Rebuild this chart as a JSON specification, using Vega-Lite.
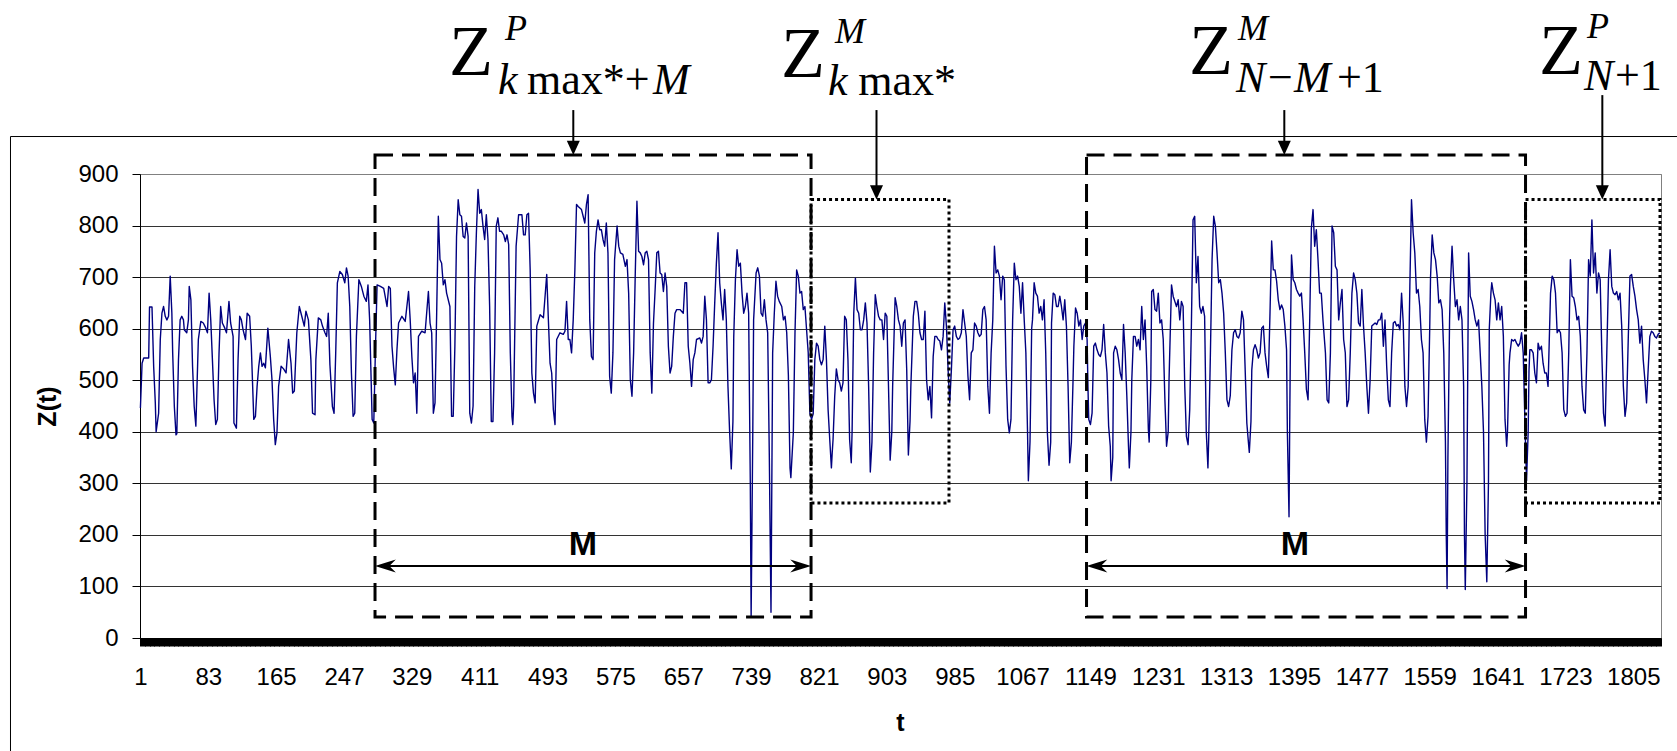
{
"$schema": "https://vega.github.io/schema/vega-lite/v6.json",
"width": 1521, "height": 464,
"autosize": {"type": "none"},
"padding": {"left": 140, "top": 174, "right": 16, "bottom": 113},
"background": "white",
"config": {"view": {"stroke": "#808080", "strokeWidth": 1}, "font": "Liberation Sans"},
"datasets": {
"series": [
{"t":1,"z":446},{"t":3,"z":533},{"t":5,"z":543},{"t":11,"z":543},{"t":12,"z":642},{"t":15,"z":642},{"t":17,"z":527},{"t":19,"z":456},{"t":20,"z":400},{"t":23,"z":436},{"t":25,"z":579},{"t":27,"z":630},{"t":29,"z":643},{"t":31,"z":624},{"t":33,"z":617},{"t":35,"z":624},{"t":37,"z":702},{"t":39,"z":630},{"t":40,"z":553},{"t":42,"z":449},{"t":44,"z":394},{"t":45,"z":396},{"t":47,"z":540},{"t":49,"z":617},{"t":51,"z":624},{"t":53,"z":617},{"t":54,"z":598},{"t":57,"z":592},{"t":59,"z":617},{"t":60,"z":682},{"t":62,"z":656},{"t":64,"z":527},{"t":66,"z":449},{"t":68,"z":411},{"t":71,"z":579},{"t":74,"z":614},{"t":77,"z":611},{"t":80,"z":601},{"t":82,"z":592},{"t":84,"z":669},{"t":86,"z":617},{"t":88,"z":540},{"t":90,"z":462},{"t":92,"z":414},{"t":94,"z":424},{"t":96,"z":553},{"t":98,"z":643},{"t":100,"z":611},{"t":103,"z":601},{"t":105,"z":592},{"t":108,"z":653},{"t":110,"z":611},{"t":113,"z":585},{"t":114,"z":417},{"t":117,"z":407},{"t":119,"z":540},{"t":121,"z":624},{"t":123,"z":617},{"t":125,"z":598},{"t":128,"z":579},{"t":130,"z":630},{"t":133,"z":624},{"t":135,"z":566},{"t":138,"z":424},{"t":140,"z":430},{"t":142,"z":488},{"t":144,"z":527},{"t":146,"z":553},{"t":148,"z":527},{"t":150,"z":533},{"t":152,"z":524},{"t":155,"z":601},{"t":158,"z":546},{"t":160,"z":501},{"t":162,"z":424},{"t":164,"z":375},{"t":166,"z":398},{"t":168,"z":488},{"t":171,"z":527},{"t":174,"z":522},{"t":177,"z":514},{"t":180,"z":579},{"t":183,"z":533},{"t":185,"z":475},{"t":187,"z":479},{"t":190,"z":592},{"t":193,"z":643},{"t":196,"z":624},{"t":199,"z":605},{"t":201,"z":634},{"t":204,"z":617},{"t":207,"z":540},{"t":209,"z":436},{"t":212,"z":433},{"t":213,"z":540},{"t":216,"z":621},{"t":219,"z":617},{"t":221,"z":605},{"t":224,"z":592},{"t":226,"z":585},{"t":228,"z":630},{"t":230,"z":530},{"t":233,"z":449},{"t":235,"z":436},{"t":237,"z":553},{"t":239,"z":689},{"t":242,"z":711},{"t":245,"z":705},{"t":248,"z":689},{"t":250,"z":718},{"t":252,"z":702},{"t":254,"z":643},{"t":256,"z":514},{"t":258,"z":430},{"t":260,"z":436},{"t":262,"z":585},{"t":265,"z":695},{"t":268,"z":682},{"t":271,"z":663},{"t":274,"z":653},{"t":276,"z":685},{"t":278,"z":617},{"t":281,"z":424},{"t":283,"z":417},{"t":285,"z":560},{"t":287,"z":685},
{"t":291,"z":682},{"t":295,"z":678},{"t":299,"z":643},{"t":301,"z":682},{"t":303,"z":678},{"t":305,"z":566},{"t":307,"z":524},{"t":309,"z":491},{"t":311,"z":559},{"t":313,"z":611},{"t":317,"z":624},{"t":321,"z":614},{"t":325,"z":672},{"t":327,"z":617},{"t":329,"z":546},{"t":331,"z":495},{"t":333,"z":514},{"t":335,"z":436},{"t":337,"z":585},{"t":341,"z":595},{"t":345,"z":592},{"t":349,"z":672},{"t":351,"z":611},{"t":353,"z":592},{"t":355,"z":436},{"t":357,"z":456},{"t":359,"z":630},{"t":361,"z":818},{"t":363,"z":734},{"t":365,"z":727},{"t":367,"z":685},{"t":369,"z":695},{"t":371,"z":669},{"t":375,"z":643},{"t":377,"z":430},{"t":379,"z":430},{"t":381,"z":566},{"t":383,"z":779},{"t":385,"z":850},{"t":387,"z":821},{"t":389,"z":818},{"t":391,"z":779},{"t":393,"z":776},{"t":395,"z":805},{"t":397,"z":779},{"t":399,"z":436},{"t":401,"z":417},{"t":403,"z":450},{"t":405,"z":682},{"t":407,"z":786},{"t":409,"z":870},{"t":411,"z":824},{"t":413,"z":831},{"t":415,"z":799},{"t":417,"z":773},{"t":419,"z":821},{"t":421,"z":773},{"t":423,"z":643},{"t":425,"z":420},{"t":427,"z":420},{"t":429,"z":553},{"t":431,"z":799},{"t":433,"z":815},{"t":435,"z":789},{"t":437,"z":789},{"t":440,"z":782},{"t":442,"z":769},{"t":444,"z":782},{"t":446,"z":763},{"t":448,"z":553},{"t":450,"z":430},{"t":451,"z":414},{"t":452,"z":450},{"t":455,"z":760},{"t":458,"z":821},{"t":462,"z":821},{"t":464,"z":782},{"t":466,"z":782},{"t":468,"z":821},{"t":470,"z":824},{"t":472,"z":714},{"t":474,"z":514},{"t":476,"z":475},{"t":478,"z":456},{"t":480,"z":605},{"t":484,"z":627},{"t":488,"z":621},{"t":492,"z":705},{"t":494,"z":617},{"t":496,"z":533},{"t":498,"z":514},{"t":500,"z":443},{"t":502,"z":414},{"t":504,"z":579},{"t":508,"z":592},{"t":512,"z":589},{"t":514,"z":595},{"t":516,"z":653},{"t":518,"z":579},{"t":520,"z":579},{"t":522,"z":553},{"t":524,"z":617},{"t":526,"z":714},{"t":528,"z":841},{"t":530,"z":837},{"t":532,"z":834},{"t":534,"z":831},{"t":536,"z":818},{"t":538,"z":805},{"t":540,"z":841},{"t":542,"z":860},{"t":544,"z":617},{"t":546,"z":546},{"t":548,"z":540},{"t":550,"z":747},{"t":552,"z":789},{"t":554,"z":811},{"t":556,"z":792},{"t":558,"z":792},{"t":560,"z":773},{"t":562,"z":760},{"t":564,"z":805},{"t":566,"z":747},{"t":568,"z":508},{"t":570,"z":475},{"t":572,"z":553},{"t":574,"z":734},{"t":577,"z":799},{"t":579,"z":760},{"t":581,"z":747},{"t":584,"z":744},{"t":587,"z":721},{"t":589,"z":734},{"t":591,"z":669},{"t":593,"z":501},{"t":595,"z":469},{"t":597,"z":553},{"t":599,"z":708},{"t":601,"z":847},{"t":603,"z":750},{"t":605,"z":747},{"t":607,"z":740},{"t":609,"z":724},{"t":611,"z":747},{"t":613,"z":750},{"t":615,"z":734},{"t":617,"z":553},{"t":619,"z":475},{"t":621,"z":611},{"t":623,"z":676},{"t":625,"z":747},{"t":627,"z":750},{"t":629,"z":708},{"t":631,"z":705},{"t":633,"z":672},{"t":635,"z":708},{"t":637,"z":682},{"t":639,"z":566},{"t":641,"z":514},{"t":643,"z":527},{"t":645,"z":585},{"t":647,"z":630},{"t":649,"z":637},{"t":653,"z":637},{"t":657,"z":630},{"t":659,"z":689},{"t":661,"z":689},{"t":663,"z":566},{"t":665,"z":533},{"t":667,"z":488},{"t":669,"z":540},{"t":671,"z":553},{"t":673,"z":579},{"t":677,"z":582},{"t":679,"z":572},{"t":681,"z":585},{"t":683,"z":663},{"t":685,"z":617},{"t":687,"z":495},{"t":689,"z":495},{"t":691,"z":501},{"t":693,"z":566},{"t":695,"z":650},{"t":697,"z":727},{"t":699,"z":786},{"t":701,"z":689},{"t":703,"z":650},{"t":705,"z":617},{"t":707,"z":676},{"t":709,"z":617},{"t":711,"z":488},{"t":713,"z":400},{"t":715,"z":328},{"t":717,"z":420},{"t":718,"z":585},{"t":720,"z":695},{"t":722,"z":753},{"t":724,"z":721},{"t":726,"z":727},{"t":728,"z":669},{"t":730,"z":630},{"t":732,"z":643},{"t":734,"z":669},{"t":736,"z":630},{"t":738,"z":300},{"t":739,"z":40},{"t":741,"z":400},{"t":742,"z":617},{"t":745,"z":708},{"t":747,"z":718},{"t":749,"z":702},{"t":751,"z":630},{"t":753,"z":624},{"t":755,"z":656},{"t":757,"z":617},{"t":759,"z":592},{"t":761,"z":350},{"t":763,"z":50},{"t":764,"z":300},{"t":765,"z":553},{"t":767,"z":630},{"t":769,"z":692},{"t":771,"z":663},{"t":773,"z":653},{"t":776,"z":643},{"t":778,"z":617},{"t":780,"z":624},{"t":782,"z":592},{"t":784,"z":510},{"t":786,"z":330},{"t":787,"z":311},{"t":790,"z":398},{"t":792,"z":592},{"t":794,"z":714},{"t":796,"z":702},{"t":798,"z":669},{"t":800,"z":672},{"t":802,"z":637},{"t":804,"z":643},{"t":806,"z":598},{"t":808,"z":553},{"t":810,"z":436},{"t":812,"z":424},
{"t":814,"z":435},{"t":816,"z":540},{"t":818,"z":572},{"t":820,"z":566},{"t":822,"z":540},{"t":824,"z":530},{"t":826,"z":540},{"t":828,"z":605},{"t":830,"z":540},{"t":832,"z":443},{"t":834,"z":385},{"t":836,"z":330},{"t":837,"z":360},{"t":838,"z":385},{"t":840,"z":469},{"t":842,"z":522},{"t":844,"z":501},{"t":846,"z":495},{"t":848,"z":479},{"t":850,"z":495},{"t":852,"z":624},{"t":854,"z":617},{"t":856,"z":540},{"t":858,"z":385},{"t":860,"z":340},{"t":861,"z":400},{"t":863,"z":630},{"t":865,"z":698},{"t":867,"z":637},{"t":869,"z":630},{"t":871,"z":598},{"t":873,"z":598},{"t":875,"z":617},{"t":877,"z":650},{"t":879,"z":611},{"t":881,"z":488},{"t":883,"z":322},{"t":885,"z":380},{"t":887,"z":553},{"t":889,"z":666},{"t":891,"z":643},{"t":893,"z":624},{"t":895,"z":617},{"t":897,"z":617},{"t":899,"z":579},{"t":901,"z":630},{"t":903,"z":624},{"t":905,"z":488},{"t":907,"z":345},{"t":909,"z":400},{"t":910,"z":488},{"t":913,"z":660},{"t":915,"z":643},{"t":917,"z":617},{"t":919,"z":605},{"t":921,"z":566},{"t":923,"z":611},{"t":925,"z":617},{"t":927,"z":521},{"t":929,"z":355},{"t":931,"z":420},{"t":932,"z":488},{"t":935,"z":624},{"t":937,"z":653},{"t":939,"z":653},{"t":941,"z":630},{"t":943,"z":592},{"t":945,"z":579},{"t":947,"z":579},{"t":949,"z":634},{"t":951,"z":501},{"t":953,"z":462},{"t":955,"z":488},{"t":957,"z":427},{"t":959,"z":546},{"t":961,"z":585},{"t":963,"z":585},{"t":965,"z":579},{"t":967,"z":576},{"t":969,"z":559},{"t":971,"z":585},{"t":973,"z":650},{"t":975,"z":605},{"t":977,"z":521},{"t":979,"z":456},{"t":981,"z":521},{"t":983,"z":598},{"t":985,"z":605},{"t":987,"z":585},{"t":989,"z":579},{"t":991,"z":582},{"t":993,"z":592},{"t":995,"z":637},{"t":997,"z":611},{"t":999,"z":585},{"t":1001,"z":508},{"t":1003,"z":462},{"t":1005,"z":553},{"t":1007,"z":559},{"t":1009,"z":611},{"t":1011,"z":605},{"t":1013,"z":592},{"t":1015,"z":585},{"t":1017,"z":589},{"t":1019,"z":637},{"t":1021,"z":643},{"t":1023,"z":617},{"t":1025,"z":488},{"t":1027,"z":436},{"t":1029,"z":553},{"t":1031,"z":617},{"t":1033,"z":760},{"t":1035,"z":708},{"t":1037,"z":714},{"t":1039,"z":702},{"t":1041,"z":656},{"t":1043,"z":702},{"t":1045,"z":695},{"t":1047,"z":527},{"t":1049,"z":424},{"t":1051,"z":398},{"t":1053,"z":424},{"t":1055,"z":617},{"t":1057,"z":727},{"t":1059,"z":695},{"t":1061,"z":702},{"t":1063,"z":682},{"t":1065,"z":630},{"t":1067,"z":689},{"t":1069,"z":617},{"t":1071,"z":553},{"t":1073,"z":400},{"t":1074,"z":305},{"t":1076,"z":380},{"t":1078,"z":600},{"t":1079,"z":617},{"t":1081,"z":689},{"t":1083,"z":669},{"t":1085,"z":663},{"t":1087,"z":630},{"t":1089,"z":643},{"t":1091,"z":617},{"t":1093,"z":656},{"t":1095,"z":553},{"t":1097,"z":398},{"t":1099,"z":335},{"t":1101,"z":380},{"t":1102,"z":611},{"t":1104,"z":669},{"t":1106,"z":666},{"t":1108,"z":643},{"t":1110,"z":643},{"t":1112,"z":663},{"t":1114,"z":643},{"t":1116,"z":617},{"t":1118,"z":656},{"t":1120,"z":605},{"t":1122,"z":488},{"t":1124,"z":340},{"t":1126,"z":380},{"t":1128,"z":500},{"t":1129,"z":566},{"t":1131,"z":640},{"t":1133,"z":630},{"t":1135,"z":605},{"t":1137,"z":617},{"t":1139,"z":579},{"t":1141,"z":605},{"t":1143,"z":611},{"t":1145,"z":579},{"t":1146,"z":488},{"t":1147,"z":424},{"t":1149,"z":414},{"t":1151,"z":436},{"t":1153,"z":566},{"t":1155,"z":572},{"t":1157,"z":559},{"t":1159,"z":550},{"t":1161,"z":546},{"t":1163,"z":559},{"t":1165,"z":608},{"t":1167,"z":553},{"t":1169,"z":514},{"t":1171,"z":411},{"t":1173,"z":372},{"t":1174,"z":305},{"t":1176,"z":350},{"t":1177,"z":553},{"t":1179,"z":566},{"t":1181,"z":559},{"t":1183,"z":540},{"t":1185,"z":514},{"t":1187,"z":501},{"t":1189,"z":608},{"t":1191,"z":553},{"t":1193,"z":469},{"t":1195,"z":372},{"t":1196,"z":330},{"t":1198,"z":400},{"t":1199,"z":501},{"t":1201,"z":585},{"t":1203,"z":585},{"t":1205,"z":566},{"t":1207,"z":579},{"t":1209,"z":559},{"t":1211,"z":643},{"t":1213,"z":579},{"t":1215,"z":617},{"t":1217,"z":527},{"t":1219,"z":405},{"t":1220,"z":380},{"t":1222,"z":500},{"t":1223,"z":672},{"t":1225,"z":676},{"t":1227,"z":637},{"t":1229,"z":634},{"t":1231,"z":669},{"t":1233,"z":611},{"t":1235,"z":617},{"t":1237,"z":579},{"t":1239,"z":462},{"t":1241,"z":372},{"t":1243,"z":400},{"t":1244,"z":501},{"t":1247,"z":685},{"t":1249,"z":663},{"t":1251,"z":653},{"t":1253,"z":643},{"t":1255,"z":656},{"t":1257,"z":617},{"t":1259,"z":653},{"t":1261,"z":643},{"t":1263,"z":488},{"t":1265,"z":391},{"t":1267,"z":375},{"t":1269,"z":443},{"t":1271,"z":605},{"t":1273,"z":811},{"t":1275,"z":818},{"t":1277,"z":689},{"t":1279,"z":740},{"t":1281,"z":643},{"t":1283,"z":630},{"t":1285,"z":643},{"t":1287,"z":624},{"t":1289,"z":400},{"t":1291,"z":330},{"t":1292,"z":390},{"t":1294,"z":553},{"t":1296,"z":734},{"t":1298,"z":818},{"t":1300,"z":799},{"t":1302,"z":747},{"t":1304,"z":689},{"t":1306,"z":695},{"t":1308,"z":669},{"t":1310,"z":630},{"t":1312,"z":553},{"t":1314,"z":462},{"t":1316,"z":449},
{"t":1318,"z":470},{"t":1320,"z":559},{"t":1322,"z":592},{"t":1324,"z":598},{"t":1326,"z":585},{"t":1328,"z":582},{"t":1330,"z":592},{"t":1332,"z":634},{"t":1334,"z":617},{"t":1336,"z":521},{"t":1338,"z":417},{"t":1340,"z":378},{"t":1341,"z":360},{"t":1343,"z":420},{"t":1344,"z":520},{"t":1346,"z":559},{"t":1348,"z":569},{"t":1350,"z":559},{"t":1352,"z":543},{"t":1354,"z":553},{"t":1356,"z":601},{"t":1358,"z":605},{"t":1360,"z":553},{"t":1362,"z":527},{"t":1364,"z":505},{"t":1366,"z":630},{"t":1368,"z":770},{"t":1370,"z":714},{"t":1372,"z":714},{"t":1374,"z":692},{"t":1376,"z":656},{"t":1378,"z":637},{"t":1380,"z":646},{"t":1382,"z":637},{"t":1384,"z":605},{"t":1386,"z":559},{"t":1387,"z":400},{"t":1389,"z":235},{"t":1390,"z":450},{"t":1391,"z":620},{"t":1392,"z":743},{"t":1394,"z":695},{"t":1396,"z":689},{"t":1398,"z":676},{"t":1400,"z":669},{"t":1402,"z":663},{"t":1404,"z":669},{"t":1406,"z":617},{"t":1408,"z":553},{"t":1410,"z":482},{"t":1412,"z":462},{"t":1414,"z":617},{"t":1416,"z":795},{"t":1418,"z":831},{"t":1420,"z":760},{"t":1422,"z":792},{"t":1424,"z":734},{"t":1426,"z":669},{"t":1428,"z":669},{"t":1430,"z":617},{"t":1433,"z":553},{"t":1435,"z":462},{"t":1437,"z":456},{"t":1439,"z":553},{"t":1441,"z":799},{"t":1443,"z":786},{"t":1445,"z":721},{"t":1447,"z":714},{"t":1449,"z":617},{"t":1451,"z":650},{"t":1453,"z":676},{"t":1455,"z":579},{"t":1457,"z":553},{"t":1459,"z":449},{"t":1461,"z":462},{"t":1463,"z":553},{"t":1465,"z":669},{"t":1467,"z":708},{"t":1469,"z":695},{"t":1471,"z":669},{"t":1473,"z":611},{"t":1475,"z":605},{"t":1477,"z":676},{"t":1479,"z":605},{"t":1481,"z":553},{"t":1483,"z":488},{"t":1485,"z":436},{"t":1487,"z":501},{"t":1489,"z":605},{"t":1491,"z":608},{"t":1493,"z":611},{"t":1495,"z":608},{"t":1497,"z":617},{"t":1499,"z":617},{"t":1501,"z":630},{"t":1503,"z":566},{"t":1505,"z":617},{"t":1507,"z":527},{"t":1509,"z":462},{"t":1511,"z":449},{"t":1513,"z":553},{"t":1515,"z":611},{"t":1517,"z":614},{"t":1519,"z":605},{"t":1521,"z":608},{"t":1523,"z":598},{"t":1525,"z":669},{"t":1527,"z":611},{"t":1529,"z":488},{"t":1531,"z":449},{"t":1533,"z":488},{"t":1535,"z":682},{"t":1537,"z":850},{"t":1539,"z":786},{"t":1541,"z":747},{"t":1543,"z":669},{"t":1545,"z":676},{"t":1547,"z":643},{"t":1549,"z":579},{"t":1551,"z":553},{"t":1553,"z":424},{"t":1555,"z":380},{"t":1557,"z":430},{"t":1559,"z":600},{"t":1560,"z":700},{"t":1562,"z":782},{"t":1564,"z":747},{"t":1566,"z":734},{"t":1568,"z":702},{"t":1570,"z":650},{"t":1572,"z":656},{"t":1574,"z":637},{"t":1576,"z":553},{"t":1578,"z":380},{"t":1579,"z":200},{"t":1580,"z":96},{"t":1581,"z":350},{"t":1583,"z":617},{"t":1584,"z":682},{"t":1586,"z":760},{"t":1588,"z":695},{"t":1590,"z":643},{"t":1592,"z":656},{"t":1594,"z":617},{"t":1596,"z":643},{"t":1598,"z":617},{"t":1600,"z":488},{"t":1601,"z":200},{"t":1602,"z":94},{"t":1604,"z":300},{"t":1606,"z":747},{"t":1608,"z":663},{"t":1610,"z":653},{"t":1612,"z":637},{"t":1614,"z":617},{"t":1616,"z":605},{"t":1618,"z":617},{"t":1620,"z":553},{"t":1622,"z":488},{"t":1624,"z":400},{"t":1626,"z":200},{"t":1628,"z":109},{"t":1630,"z":300},{"t":1631,"z":600},{"t":1633,"z":670},{"t":1634,"z":689},{"t":1636,"z":669},{"t":1638,"z":656},{"t":1640,"z":617},{"t":1642,"z":650},{"t":1644,"z":617},{"t":1646,"z":643},{"t":1648,"z":585},{"t":1650,"z":424},{"t":1652,"z":372},{"t":1653,"z":400},{"t":1655,"z":530},{"t":1656,"z":553},{"t":1658,"z":579},{"t":1660,"z":576},{"t":1662,"z":579},{"t":1664,"z":572},{"t":1666,"z":566},{"t":1668,"z":572},{"t":1670,"z":592},{"t":1672,"z":553},{"t":1674,"z":424},{"t":1676,"z":305},{"t":1678,"z":400},{"t":1679,"z":520},{"t":1680,"z":559},{"t":1682,"z":559},{"t":1684,"z":553},{"t":1686,"z":514},{"t":1688,"z":495},{"t":1690,"z":572},{"t":1692,"z":559},{"t":1694,"z":566},{"t":1696,"z":533},{"t":1698,"z":514},{"t":1700,"z":514},{"t":1702,"z":488},{"t":1705,"z":669},{"t":1707,"z":702},{"t":1709,"z":695},{"t":1711,"z":669},{"t":1713,"z":592},{"t":1715,"z":598},{"t":1717,"z":592},{"t":1719,"z":553},{"t":1721,"z":443},{"t":1723,"z":430},{"t":1725,"z":436},{"t":1727,"z":553},{"t":1729,"z":734},{"t":1731,"z":663},{"t":1733,"z":660},{"t":1735,"z":643},{"t":1737,"z":617},{"t":1739,"z":624},{"t":1741,"z":585},{"t":1743,"z":488},{"t":1745,"z":443},{"t":1747,"z":436},{"t":1749,"z":553},{"t":1751,"z":734},{"t":1753,"z":702},{"t":1755,"z":811},{"t":1757,"z":708},{"t":1759,"z":747},{"t":1761,"z":669},{"t":1763,"z":708},{"t":1765,"z":695},{"t":1767,"z":553},{"t":1769,"z":436},{"t":1771,"z":411},{"t":1773,"z":553},{"t":1775,"z":695},{"t":1777,"z":753},{"t":1779,"z":682},{"t":1781,"z":669},{"t":1783,"z":666},{"t":1785,"z":672},{"t":1787,"z":656},{"t":1789,"z":669},{"t":1791,"z":605},{"t":1793,"z":488},{"t":1795,"z":430},{"t":1797,"z":456},{"t":1799,"z":585},{"t":1801,"z":702},{"t":1803,"z":705},{"t":1805,"z":682},{"t":1807,"z":663},{"t":1809,"z":637},{"t":1811,"z":617},{"t":1813,"z":572},{"t":1815,"z":605},{"t":1817,"z":540},{"t":1819,"z":501},{"t":1821,"z":456},{"t":1823,"z":521},{"t":1825,"z":585},{"t":1827,"z":595},{"t":1829,"z":592},{"t":1831,"z":585},{"t":1833,"z":582},{"t":1835,"z":589},{"t":1837,"z":592}
],
"boxes": [
{"t":284.5,"t2":811.4,"z":40.7,"z2":936.8,"kind":"dash"},
{"t":1144.3,"t2":1674.8,"z":40.7,"z2":936.8,"kind":"dash"},
{"t":811.4,"t2":978.1,"z":261.8,"z2":850.5,"kind":"dot"},
{"t":1674.8,"t2":1837.3,"z":261.8,"z2":850.5,"kind":"dot"}
],
"rules": [
{"t":-156,"t2":2600,"z":972.7,"z2":972.7,"grp":"frame"},
{"t":-156,"t2":-156,"z":972.7,"z2":-400,"grp":"frame"},
{"t":524.1,"t2":524.1,"z":1024,"z2":945,"grp":"arrow"},
{"t":890.5,"t2":890.5,"z":1024,"z2":860,"grp":"arrow"},
{"t":1383.3,"t2":1383.3,"z":1024,"z2":945,"grp":"arrow"},
{"t":1767.6,"t2":1767.6,"z":1053,"z2":860,"grp":"arrow"},
{"t":295,"t2":801,"z":139.6,"z2":139.6,"grp":"arrow"},
{"t":1155,"t2":1664,"z":139.6,"z2":139.6,"grp":"arrow"}
],
"heads": [
{"t":524.1,"z":936.8,"dir":"down"},
{"t":890.5,"z":850.5,"dir":"down"},
{"t":1383.3,"z":936.8,"dir":"down"},
{"t":1767.6,"z":850.5,"dir":"down"},
{"t":284.5,"z":139.6,"dir":"left"},
{"t":811.4,"z":139.6,"dir":"right"},
{"t":1144.3,"z":139.6,"dir":"left"},
{"t":1674.8,"z":139.6,"dir":"right"}
],
"labels": [
{"t":373.9,"z":1092,"txt":"Z","role":"Z"},
{"t":441.6,"z":1160,"txt":"P","role":"sup"},
{"t":433.1,"z":1055,"txt":"k","role":"subi"},
{"t":468.2,"z":1055,"txt":"max*+","role":"subr"},
{"t":620.4,"z":1055,"txt":"M","role":"subi"},
{"t":775.1,"z":1088,"txt":"Z","role":"Z"},
{"t":840.3,"z":1155,"txt":"M","role":"sup"},
{"t":831.9,"z":1053,"txt":"k","role":"subi"},
{"t":868.5,"z":1053,"txt":"max*","role":"subr"},
{"t":1268.1,"z":1094,"txt":"Z","role":"Z"},
{"t":1327.3,"z":1160,"txt":"M","role":"sup"},
{"t":1324.9,"z":1060,"txt":"N","role":"subi"},
{"t":1363.6,"z":1060,"txt":"−","role":"subr"},
{"t":1395.0,"z":1060,"txt":"M","role":"subi"},
{"t":1447.0,"z":1060,"txt":"+1","role":"subr"},
{"t":1691.1,"z":1094,"txt":"Z","role":"Z"},
{"t":1749.1,"z":1163,"txt":"P","role":"sup"},
{"t":1745.5,"z":1062,"txt":"N","role":"subi"},
{"t":1782.9,"z":1062,"txt":"+1","role":"subr"},
{"t":535.8,"z":161,"txt":"M","role":"M"},
{"t":1396.2,"z":161,"txt":"M","role":"M"}
]
},
"layer": [
{"data": {"name": "series"},
 "mark": {"type": "line", "color": "#000080", "strokeWidth": 1.4, "strokeJoin": "round", "clip": false},
 "encoding": {
  "x": {"field": "t", "type": "quantitative", "title": "t", "scale": {"domain": [0.5, 1838.5], "nice": false, "zero": false},
   "axis": {"title": "t", "titleFont": "Liberation Sans", "titleFontSize": 25, "titleFontWeight": "bold", "titleColor": "black", "titleX": 760, "titleY": 92, "titleBaseline": "alphabetic", "titleAlign": "center",
    "tickCount": 1838, "format": "d", "labelExpr": "(datum.value - 1) % 82 === 0 ? datum.label : ''", "labelOverlap": false, "labelFlush": false, "labelFont": "Liberation Sans", "labelFontSize": 24, "labelColor": "black", "labelPadding": 19, "tickSize": 8, "tickColor": "black", "tickWidth": 1, "domainColor": "black", "domainWidth": 1, "grid": false}},
  "y": {"field": "z", "type": "quantitative", "title": "Z(t)", "scale": {"domain": [0, 900], "nice": false, "zero": true},
   "axis": {"title": "Z(t)", "values": [0,100,200,300,400,500,600,700,800,900], "grid": true, "gridColor": {"condition": {"test": "datum.value === 900", "value": "#808080"}, "value": "#333333"}, "gridWidth": 1,
    "labelFont": "Liberation Sans", "labelFontSize": 24, "labelColor": "black", "labelPadding": 14, "tickSize": 8, "tickColor": "black", "domainColor": "black",
    "titleFont": "Liberation Sans", "titleFontSize": 25, "titleFontWeight": "bold", "titleColor": "black", "titleX": -85, "titleY": 232, "titleAngle": 270, "titleBaseline": "alphabetic", "titleAlign": "center"}}
 }},
{"data": {"name": "boxes"}, "transform": [{"filter": "datum.kind === 'dash'"}],
 "mark": {"type": "rect", "filled": false, "stroke": "black", "strokeWidth": 3, "strokeDash": [18, 9], "clip": false},
 "encoding": {"x": {"field": "t", "type": "quantitative", "title": "t"}, "x2": {"field": "t2"}, "y": {"field": "z", "type": "quantitative", "title": "Z(t)"}, "y2": {"field": "z2"}}},
{"data": {"name": "boxes"}, "transform": [{"filter": "datum.kind === 'dot'"}],
 "mark": {"type": "rect", "filled": false, "stroke": "black", "strokeWidth": 3, "strokeDash": [3, 3], "clip": false},
 "encoding": {"x": {"field": "t", "type": "quantitative", "title": "t"}, "x2": {"field": "t2"}, "y": {"field": "z", "type": "quantitative", "title": "Z(t)"}, "y2": {"field": "z2"}}},
{"data": {"name": "rules"}, "transform": [{"filter": "datum.grp === 'frame'"}],
 "mark": {"type": "rule", "color": "black", "strokeWidth": 1, "clip": false},
 "encoding": {"x": {"field": "t", "type": "quantitative", "title": "t"}, "x2": {"field": "t2"}, "y": {"field": "z", "type": "quantitative", "title": "Z(t)"}, "y2": {"field": "z2"}}},
{"data": {"name": "rules"}, "transform": [{"filter": "datum.grp === 'arrow'"}],
 "mark": {"type": "rule", "color": "black", "strokeWidth": 2, "clip": false},
 "encoding": {"x": {"field": "t", "type": "quantitative", "title": "t"}, "x2": {"field": "t2"}, "y": {"field": "z", "type": "quantitative", "title": "Z(t)"}, "y2": {"field": "z2"}}},
{"data": {"name": "heads"},
 "mark": {"type": "point", "filled": true, "color": "black", "opacity": 1, "strokeWidth": 0, "size": 676, "clip": false},
 "encoding": {"x": {"field": "t", "type": "quantitative", "title": "t"}, "y": {"field": "z", "type": "quantitative", "title": "Z(t)"},
  "shape": {"field": "dir", "type": "nominal", "legend": null, "scale": {"domain": ["down", "left", "right"], "range": ["M0,0L-0.5,-1.1L0.5,-1.1Z", "M0,0L1.6,-0.5L1.1,0L1.6,0.5Z", "M0,0L-1.6,-0.5L-1.1,0L-1.6,0.5Z"]}}}},
{"data": {"name": "labels"}, "transform": [{"filter": "datum.role === 'M'"}],
 "mark": {"type": "text", "font": "Liberation Sans", "fontWeight": "bold", "fontSize": 34, "align": "center", "baseline": "alphabetic", "color": "black", "clip": false},
 "encoding": {"x": {"field": "t", "type": "quantitative", "title": "t"}, "y": {"field": "z", "type": "quantitative", "title": "Z(t)"}, "text": {"field": "txt"}}},
{"data": {"name": "labels"}, "transform": [{"filter": "datum.role === 'Z'"}],
 "mark": {"type": "text", "font": "Liberation Serif", "fontSize": 72, "align": "left", "baseline": "alphabetic", "color": "black", "clip": false},
 "encoding": {"x": {"field": "t", "type": "quantitative", "title": "t"}, "y": {"field": "z", "type": "quantitative", "title": "Z(t)"}, "text": {"field": "txt"}}},
{"data": {"name": "labels"}, "transform": [{"filter": "datum.role === 'sup'"}],
 "mark": {"type": "text", "font": "Liberation Serif", "fontStyle": "italic", "fontSize": 36, "align": "left", "baseline": "alphabetic", "color": "black", "clip": false},
 "encoding": {"x": {"field": "t", "type": "quantitative", "title": "t"}, "y": {"field": "z", "type": "quantitative", "title": "Z(t)"}, "text": {"field": "txt"}}},
{"data": {"name": "labels"}, "transform": [{"filter": "datum.role === 'subi'"}],
 "mark": {"type": "text", "font": "Liberation Serif", "fontStyle": "italic", "fontSize": 44, "align": "left", "baseline": "alphabetic", "color": "black", "clip": false},
 "encoding": {"x": {"field": "t", "type": "quantitative", "title": "t"}, "y": {"field": "z", "type": "quantitative", "title": "Z(t)"}, "text": {"field": "txt"}}},
{"data": {"name": "labels"}, "transform": [{"filter": "datum.role === 'subr'"}],
 "mark": {"type": "text", "font": "Liberation Serif", "fontSize": 44, "align": "left", "baseline": "alphabetic", "color": "black", "clip": false},
 "encoding": {"x": {"field": "t", "type": "quantitative", "title": "t"}, "y": {"field": "z", "type": "quantitative", "title": "Z(t)"}, "text": {"field": "txt"}}}
]
}
